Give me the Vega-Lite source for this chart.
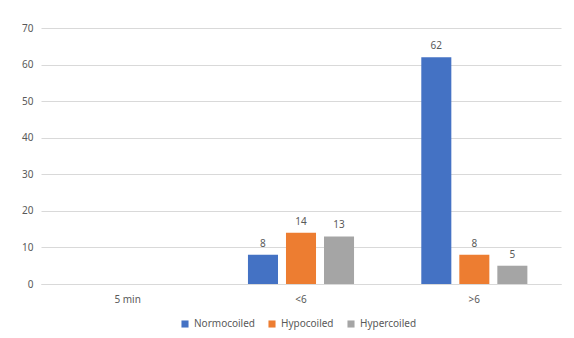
{
  "$schema": "https://vega.github.io/schema/vega-lite/v6.json",
  "width": 520,
  "height": 256,
  "autosize": {"type": "none"},
  "padding": {"left": 41, "top": 28, "right": 13, "bottom": 54},
  "background": "white",
  "data": {
    "values": [
      {"group": "5 min", "series": "Normocoiled", "value": null},
      {"group": "5 min", "series": "Hypocoiled", "value": null},
      {"group": "5 min", "series": "Hypercoiled", "value": null},
      {"group": "<6", "series": "Normocoiled", "value": 8},
      {"group": "<6", "series": "Hypocoiled", "value": 14},
      {"group": "<6", "series": "Hypercoiled", "value": 13},
      {"group": ">6", "series": "Normocoiled", "value": 62},
      {"group": ">6", "series": "Hypocoiled", "value": 8},
      {"group": ">6", "series": "Hypercoiled", "value": 5}
    ]
  },
  "encoding": {
    "x": {
      "field": "group",
      "type": "nominal",
      "sort": ["5 min", "<6", ">6"],
      "scale": {"paddingInner": 0.388, "paddingOuter": 0.194},
      "axis": {
        "title": null,
        "labelAngle": 0,
        "ticks": false,
        "domain": true,
        "domainColor": "#D9D9D9",
        "labelPadding": 10,
        "labelFont": "Noto Sans",
        "labelFontSize": 10,
        "labelColor": "#595959"
      }
    },
    "xOffset": {
      "field": "series",
      "type": "nominal",
      "sort": ["Normocoiled", "Hypocoiled", "Hypercoiled"],
      "scale": {"paddingInner": 0.21, "paddingOuter": 0}
    },
    "y": {
      "field": "value",
      "type": "quantitative",
      "scale": {"domain": [0, 70]},
      "axis": {
        "title": null,
        "values": [0, 10, 20, 30, 40, 50, 60, 70],
        "ticks": false,
        "domain": false,
        "gridColor": "#D9D9D9",
        "labelPadding": 8,
        "labelFont": "Noto Sans",
        "labelFontSize": 10,
        "labelColor": "#595959"
      }
    }
  },
  "layer": [
    {
      "mark": {"type": "bar"},
      "encoding": {
        "color": {
          "field": "series",
          "type": "nominal",
          "sort": ["Normocoiled", "Hypocoiled", "Hypercoiled"],
          "scale": {
            "domain": ["Normocoiled", "Hypocoiled", "Hypercoiled"],
            "range": ["#4472C4", "#ED7D31", "#A5A5A5"]
          },
          "legend": {
            "title": null,
            "orient": "none",
            "legendX": 139,
            "legendY": 291,
            "direction": "horizontal",
            "symbolType": "square",
            "symbolSize": 50,
            "symbolStrokeWidth": 0,
            "labelFont": "Noto Sans",
            "labelFontSize": 10,
            "labelColor": "#595959",
            "columnPadding": 12
          }
        }
      }
    },
    {
      "mark": {"type": "text", "dy": -11, "font": "Noto Sans", "fontSize": 10, "color": "#595959"},
      "transform": [{"filter": "datum.value != null"}],
      "encoding": {
        "text": {"field": "value", "type": "quantitative"}
      }
    }
  ],
  "config": {
    "view": {"stroke": null}
  }
}
